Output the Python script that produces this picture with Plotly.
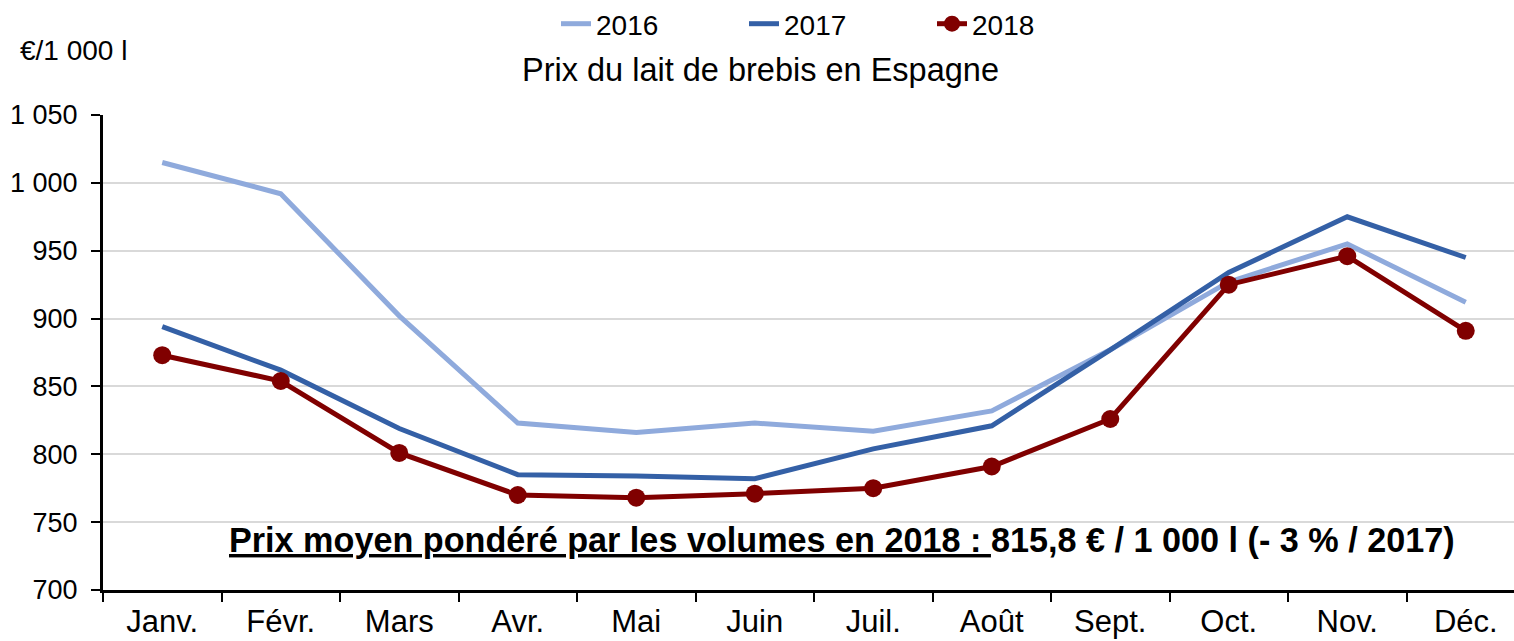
import plotly.graph_objects as go

months = ["Janv.", "Févr.", "Mars", "Avr.", "Mai", "Juin", "Juil.", "Août", "Sept.", "Oct.", "Nov.", "Déc."]
prix_2016 = [1015, 992, 902, 823, 816, 823, 817, 832, 877, 927, 955, 912]
prix_2017 = [894, 862, 819, 785, 784, 782, 804, 821, 877, 934, 975, 945]
prix_2018 = [873, 854, 801, 770, 768, 771, 775, 791, 826, 925, 946, 891]
y_ticks = [700, 750, 800, 850, 900, 950, 1000, 1050]
y_tick_labels = ["700", "750", "800", "850", "900", "950", "1 000", "1 050"]

FONT = "Liberation Sans, Arial, sans-serif"

fig = go.Figure()
fig.add_trace(go.Scatter(x=months, y=prix_2016, name="2016", mode="lines",
                         line=dict(color="#8FAADC", width=5)))
fig.add_trace(go.Scatter(x=months, y=prix_2017, name="2017", mode="lines",
                         line=dict(color="#3460A6", width=5)))
fig.add_trace(go.Scatter(x=months, y=prix_2018, name="2018", mode="lines+markers",
                         line=dict(color="#800000", width=5),
                         marker=dict(color="#800000", size=18)))

W, H = 1514, 641
L, R, T, B = 103, 0, 115, 51
pw = W - L - R
ph = H - T - B
step = 118.5

fig.update_layout(
    width=W, height=H,
    margin=dict(l=L, r=R, t=T, b=B, pad=0, autoexpand=False),
    paper_bgcolor="white", plot_bgcolor="white",
    font=dict(family=FONT, size=27, color="black"),
    showlegend=True,
    legend=dict(orientation="h", xref="container", yref="container",
                x=556 / W, xanchor="left",
                y=1 - 24 / H, yanchor="middle",
                font=dict(size=28), entrywidth=143, itemwidth=30,
                bgcolor="rgba(0,0,0,0)"),
    xaxis=dict(type="category", range=[-0.5, -0.5 + pw / step],
               showline=True, linecolor="black", linewidth=3,
               ticks="outside", tickson="boundaries", ticklen=9, tickwidth=2,
               tickcolor="black", showgrid=False, automargin=False,
               ticklabelstandoff=2,
               tickfont=dict(size=31), fixedrange=True),
    yaxis=dict(range=[700, 1050], tickvals=y_ticks, ticktext=y_tick_labels,
               showline=True, linecolor="black", linewidth=3,
               ticks="outside", ticklen=9, tickwidth=2, tickcolor="black",
               showgrid=True, gridcolor="#D9D9D9", gridwidth=2, automargin=False,
               ticklabelstandoff=8,
               zeroline=False, tickfont=dict(size=27), fixedrange=True),
    annotations=[
        dict(text="€/1 000 l", xref="paper", yref="paper",
             x=(18 - L) / pw, y=(590 - 50) / ph, xanchor="left", yanchor="middle",
             showarrow=False, font=dict(size=28)),
        dict(text="Prix du lait de brebis en Espagne", xref="paper", yref="paper",
             x=(760 - L) / pw, y=(590 - 70) / ph, xanchor="center", yanchor="middle",
             showarrow=False, font=dict(size=32.5)),
        dict(text="<b><u>Prix moyen pondéré par les volumes en 2018 : </u>815,8 € / 1 000 l (- 3 % / 2017)</b>",
             xref="paper", yref="paper",
             x=(842 - L) / pw, y=(590 - 540) / ph, xanchor="center", yanchor="middle",
             showarrow=False, font=dict(size=34.2)),
    ],
)

fig.write_html("out.html", config={"displayModeBar": False},
               post_script="document.body.style.margin='0px';document.body.style.padding='0px';")
